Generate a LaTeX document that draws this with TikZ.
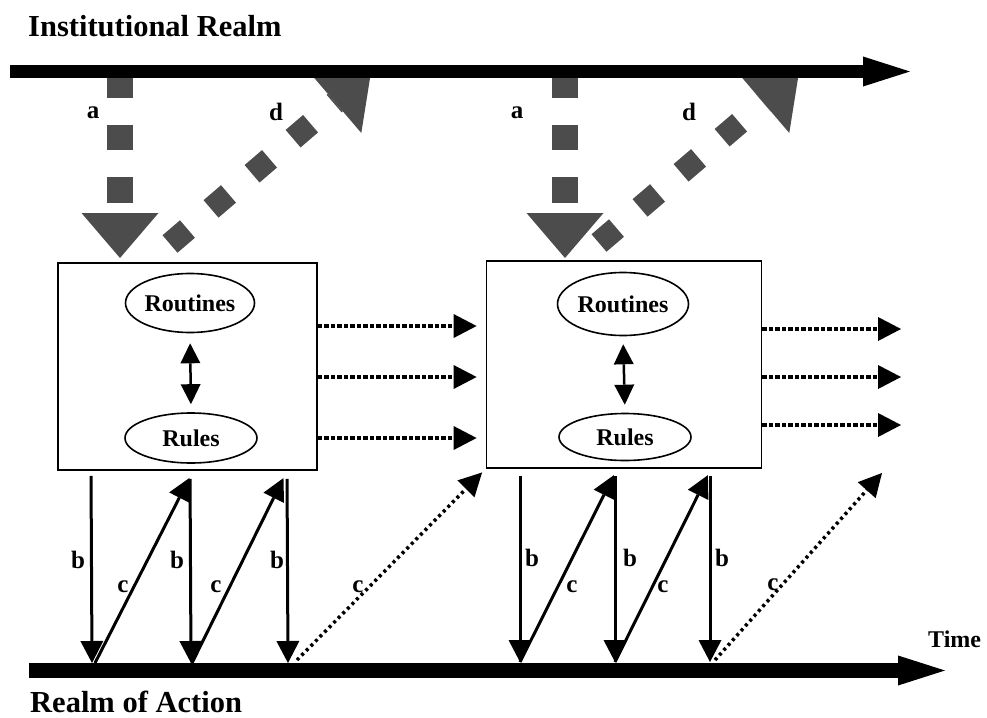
\documentclass[tikz,border=0pt]{standalone}
\usepackage{fontspec}
\setmainfont{Liberation Serif}
\usetikzlibrary{arrows.meta,shapes.geometric}
\definecolor{stipple}{gray}{0.3}
\begin{document}
\begin{tikzpicture}[x=1pt,y=-1pt,
  realm/.style={font=\fontsize{30.5}{34}\selectfont\bfseries, anchor=base west, inner sep=0pt, text depth=0pt},
  lbl/.style={font=\fontsize{25}{27}\selectfont\bfseries, inner sep=0pt},
  panel/.style={draw, line width=1.8pt, minimum height=207pt, inner sep=0pt},
  oval/.style={draw, ellipse, line width=1.6pt, inner sep=0pt,
    font=\fontsize{24}{26}\selectfont\bfseries},
  timebar/.style={line width=13.5pt, -{Triangle[length=47pt,width=30pt,line width=0pt]}},
  downflow/.style={draw=stipple, line width=26pt, dash pattern=on 25.5pt off 27pt,
    -{Triangle[length=45pt,width=77pt,line width=0pt]}},
  upflow/.style={draw=stipple, line width=23pt, dash pattern=on 23pt off 31pt,
    -{Triangle[length=47pt,width=80pt,line width=0pt]}},
  flow/.style={line width=3pt, -{Triangle[length=22pt,width=23pt,line width=0pt]}},
  carry/.style={line width=3.5pt, dash pattern=on 4.5pt off 2pt,
    -{Triangle[length=23pt,width=24pt,line width=0pt]}},
  drift/.style={line width=3.5pt, dash pattern=on 3pt off 3.5pt,
    -{Triangle[length=23pt,width=24pt,line width=0pt]}},
  link/.style={line width=2.5pt, {Triangle[length=20pt,width=20pt,line width=0pt]}-{Triangle[length=20pt,width=20pt,line width=0pt]}}
]
\useasboundingbox (0,0) rectangle (987,717);

% realm labels
\node[realm] (inst) at (28,37) {Institutional Realm};
\node[realm] (act) at (30,712) {Realm of Action};
\node[font=\fontsize{24}{26}\selectfont\bfseries, anchor=base west, inner sep=0pt] (time) at (928,647) {Time};

% the two structure boxes
\node[panel, minimum width=259pt] (box1) at (187.5,366.5) {};
\node[panel, minimum width=275pt] (box2) at (624,364.5) {};

\node[oval, minimum width=129pt, minimum height=59pt] (rout1) at (190,303) {Routines};
\node[oval, minimum width=132pt, minimum height=50pt] (rule1) at (191,438) {\raisebox{-4pt}{Rules}};
\node[oval, minimum width=131pt, minimum height=63pt] (rout2) at (623,304) {Routines};
\node[oval, minimum width=132pt, minimum height=47pt] (rule2) at (625,437) {\raisebox{-5pt}{Rules}};

\draw[link, shorten <=10pt, shorten >=8pt] (rout1.south) -- (rule1.north);
\draw[link, shorten <=8pt, shorten >=8pt] (rout2.south) -- (rule2.north);

% points on the institutional time line
\coordinate (ia1) at (120,72);
\coordinate (ia2) at (565,72);
\coordinate (id1) at (371,72);
\coordinate (id2) at (799,72);
% free ends of the gray flows near the boxes
\coordinate (ta1) at (120,258);
\coordinate (ta2) at (565,258);
\coordinate (sd1) at (170,244);
\coordinate (sd2) at (599,243);

% a: institutional encoding, d: institutionalisation
\draw[downflow] (ia1) -- (ta1);
\draw[downflow] (ia2) -- (ta2);
\draw[upflow] (sd1) -- (id1);
\draw[upflow] (sd2) -- (id2);

% time lines
\coordinate (inst0) at (10,71.5);
\coordinate (inst1) at (910,71.5);
\coordinate (act0) at (29,670.5);
\coordinate (act1) at (945,670.5);
\draw[timebar, line width=13pt] (inst0) -- (inst1);
\draw[timebar, line width=14.5pt] (act0) -- (act1);

\node[lbl] (la1) at (93,113) {a};
\node[lbl] (ld1) at (276,112) {d};
\node[lbl] (la2) at (517,113) {a};
\node[lbl] (ld2) at (689,112) {d};

% carried-over structure between periods
\draw[carry, shorten >=9pt] (box1.east |- 0,326) -- (box2.west |- 0,326);
\draw[carry, shorten >=9pt] (box1.east |- 0,377) -- (box2.west |- 0,377);
\draw[carry, shorten >=9pt] (box1.east |- 0,438) -- (box2.west |- 0,438);
\coordinate (out1) at (901,329);
\coordinate (out2) at (901,377);
\coordinate (out3) at (901,425);
\draw[carry] (box2.east |- out1) -- (out1);
\draw[carry] (box2.east |- out2) -- (out2);
\draw[carry] (box2.east |- out3) -- (out3);

% points on the action time line
\coordinate (p1) at (92,663);
\coordinate (p2) at (191,663);
\coordinate (p3) at (288,663);
\coordinate (p4) at (520,662);
\coordinate (p5) at (615,662);
\coordinate (p6) at (710,662);
\coordinate (q3) at (297,660);
\coordinate (q6) at (715,660);

% b: enactment, c: replication
\draw[flow, shorten <=5pt] (box1.south -| 91,0) -- (p1);
\draw[flow, shorten <=8pt] (box1.south -| 190,0) -- (p2);
\draw[flow, shorten <=8pt] (box1.south -| 287,0) -- (p3);
\draw[flow, shorten >=8pt] ([xshift=3pt]p1) -- (box1.south -| 193,0);
\draw[flow, shorten >=8pt] ([xshift=1pt]p2) -- (box1.south -| 287,0);
\draw[drift, shorten >=5pt] (q3) -- (box2.south west);

\draw[flow, shorten <=7pt] (box2.south -| 520,0) -- (p4);
\draw[flow, shorten <=7pt] (box2.south -| 615,0) -- (p5);
\draw[flow, shorten <=7pt] (box2.south -| 710,0) -- (p6);
\draw[flow, shorten >=7pt] (p4) -- (box2.south -| 617,0);
\draw[flow, shorten >=7pt] (p5) -- (box2.south -| 711,0);
\coordinate (out4) at (882,473);
\draw[drift] (q6) -- (out4);

\node[lbl] (lb1) at (78,560) {b};
\node[lbl] (lb2) at (177,560) {b};
\node[lbl] (lb3) at (277,560) {b};
\node[lbl] (lb4) at (532,558) {b};
\node[lbl] (lb5) at (630,558) {b};
\node[lbl] (lb6) at (722,558) {b};
\node[lbl] (lc1) at (123,587) {c};
\node[lbl] (lc2) at (216,587) {c};
\node[lbl] (lc3) at (358,587) {c};
\node[lbl] (lc4) at (572,587) {c};
\node[lbl] (lc5) at (663,587) {c};
\node[lbl] (lc6) at (773,585) {c};
\end{tikzpicture}
\end{document}
